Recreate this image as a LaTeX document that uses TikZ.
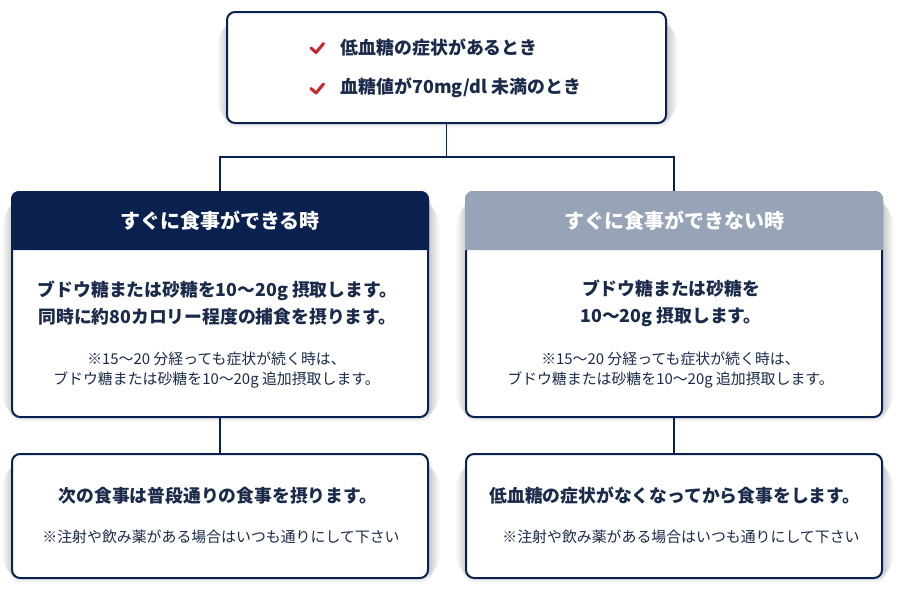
\documentclass[tikz,border=0pt]{standalone}
\usepackage{fontspec}
\setmainfont{Noto Sans CJK JP}
\usetikzlibrary{backgrounds}
\pgfdeclarelayer{bottom}
\pgfsetlayers{bottom,background,main}
\definecolor{navy}{HTML}{0A2150}
\definecolor{greyhead}{HTML}{97A3B6}
\definecolor{chk}{HTML}{C9252C}
\definecolor{txt}{HTML}{1A2A4A}
\tikzset{
  card/.style={draw=navy, line width=2pt, fill=white, rounded corners=8pt},
  shadowlayer/.style={fill=black, fill opacity=0.014},
  conn/.style={draw=navy, line width=1.6pt},
  big/.style={text=txt, font=\bfseries\fontsize{17.8}{27}\selectfont, align=center, inner sep=0pt},
  small/.style={text=txt, font=\fontsize{14.9}{20.5}\selectfont, align=center, inner sep=0pt},
  headtxt/.style={text=white, font=\bfseries\fontsize{20}{24}\selectfont, inner sep=0pt},
  topline/.style={text=txt, font=\bfseries\fontsize{17.9}{22}\selectfont, anchor=west, inner sep=0pt},
  tick/.style={draw=chk, line width=3pt, line cap=round, line join=round}
}
\begin{document}
\begin{tikzpicture}[x=1pt, y=-1pt]
\useasboundingbox (0,0) rectangle (904,600);
\begin{pgfonlayer}{bottom}
\fill[white] (0,0) rectangle (904,600);
\end{pgfonlayer}

% boxes
\node[card, minimum width=439pt, minimum height=111pt] (top) at (446.5,67.5) {};
\node[card, minimum width=416pt, minimum height=225pt] (lbox) at (220,304.5) {};
\node[card, minimum width=416pt, minimum height=225pt] (rbox) at (674,304.5) {};
\node[card, minimum width=416pt, minimum height=124pt] (lbot) at (220,516) {};
\node[card, minimum width=416pt, minimum height=124pt] (rbot) at (674,516) {};

% soft shadows
\begin{pgfonlayer}{background}
\foreach \n in {top,lbox,rbox,lbot,rbot}{
  \foreach \i in {1,...,12}{
    \fill[shadowlayer, rounded corners=8pt+0.8*\i pt]
      ([xshift=-0.8*\i pt+1pt, yshift=0.8*\i pt-5pt]\n.south west) rectangle
      ([xshift=0.8*\i pt+1pt, yshift=-0.8*\i pt-5pt]\n.north east);
  }
}
\end{pgfonlayer}

% headers
\fill[navy] (11,250) [rounded corners=8pt] -- (11,191) -- (429,191) [sharp corners] -- (429,250) -- cycle;
\fill[greyhead] (465,250) [rounded corners=8pt] -- (465,191) -- (883,191) [sharp corners] -- (883,250) -- cycle;
\node[headtxt] (lhead) at (220,221) {すぐに食事ができる時};
\node[headtxt] (rhead) at (674,221) {すぐに食事ができない時};

% connectors
\coordinate (j) at (446.5,157);
\draw[conn] (top.south) -- (j);
\draw[conn] (j) -| (lbox.north);
\draw[conn] (j) -| (rbox.north);
\draw[conn] (lbox.south) -- (lbot.north);
\draw[conn] (rbox.south) -- (rbot.north);

% top content
\draw[tick] (311,48) -- (316,52.5) -- (323.5,43.5);
\draw[tick] (311,88.5) -- (316,93) -- (323.5,84);
\node[topline] (t1) at (340.5,47.5) {低血糖の症状があるとき};
\node[topline] (t2) at (340.5,88) {血糖値が70mg/dl 未満のとき};

% left box content
\node[big] (lb1) at (217.5,303.5) {ブドウ糖または砂糖を10〜20g 摂取します。\\同時に約80カロリー程度の捕食を摂ります。};
\node[small] (ls1) at (216.5,370) {※15〜20 分経っても症状が続く時は、\\ブドウ糖または砂糖を10〜20g 追加摂取します。};

% right box content
\node[big] (rb1) at (671,303.5) {ブドウ糖または砂糖を\\10〜20g 摂取します。};
\node[small] (rs1) at (670.5,370) {※15〜20 分経っても症状が続く時は、\\ブドウ糖または砂糖を10〜20g 追加摂取します。};

% bottom contents
\node[big] (lb2) at (218,496) {次の食事は普段通りの食事を摂ります。};
\node[small] (ls2) at (221,537) {※注射や飲み薬がある場合はいつも通りにして下さい};
\node[big] (rb2) at (675,496) {低血糖の症状がなくなってから食事をします。};
\node[small] (rs2) at (681,537) {※注射や飲み薬がある場合はいつも通りにして下さい};
\end{tikzpicture}
\end{document}
